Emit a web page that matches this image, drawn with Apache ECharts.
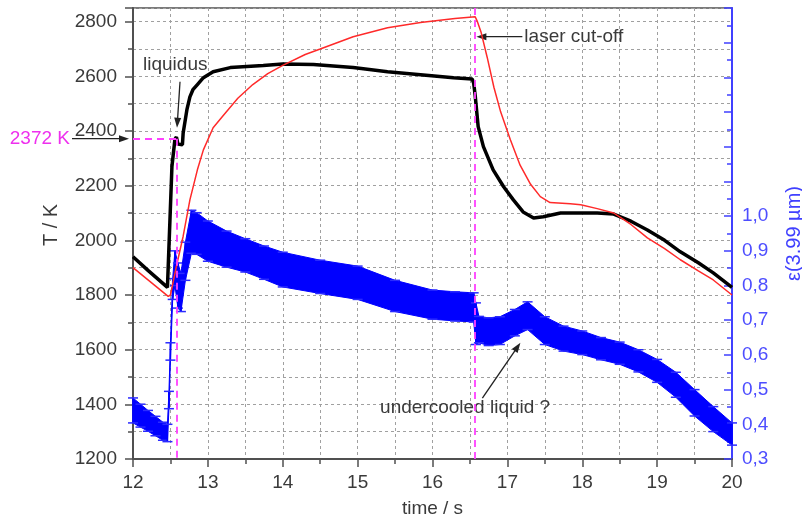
<!DOCTYPE html>
<html>
<head>
<meta charset="utf-8">
<script src="https://cdn.jsdelivr.net/npm/echarts@6/dist/echarts.min.js"></script>
<style>
html,body{margin:0;padding:0;background:#fff;}
#chart{width:802px;height:520px;}
</style>
</head>
<body>
<div id="chart"></div>
<script>
// ---- data ----
const timeBlack = [12.00,12.20,12.46,12.47,12.52,12.56,12.58,12.60,12.66,12.67,12.72,12.76,12.80,12.86,12.94,13.07,13.30,13.74,14.00,14.41,14.94,15.40,15.84,16.28,16.53,16.55,16.57,16.61,16.68,16.81,16.95,17.08,17.21,17.35,17.48,17.71,17.94,18.20,18.42,18.65,18.87,19.10,19.31,19.55,19.75,20.00];
const tempBlack = [1940,1890,1828,1835,2270,2370,2378,2352,2350,2393,2478,2525,2551,2570,2595,2617,2632,2640,2645,2643,2632,2617,2606,2595,2590,2575,2530,2416,2343,2258,2196,2148,2104,2082,2086,2100,2100,2100,2096,2070,2038,2000,1958,1918,1881,1828];

const timeRed = [12.00,12.47,12.50,12.59,12.67,12.76,12.86,12.94,13.07,13.20,13.40,13.60,13.80,14.00,14.30,14.50,14.94,15.40,15.84,16.30,16.57,16.60,16.65,16.73,16.82,16.91,17.04,17.17,17.31,17.44,17.57,17.84,17.98,18.20,18.42,18.65,18.87,19.10,19.31,19.55,19.75,20.00];
const tempRed = [1900,1795,1800,1918,2015,2148,2258,2331,2412,2455,2520,2570,2610,2640,2680,2700,2745,2778,2797,2812,2818,2800,2760,2670,2560,2470,2368,2275,2205,2160,2138,2134,2130,2116,2100,2058,2009,1970,1929,1888,1855,1800];

const timeEps = [12.00,12.10,12.20,12.30,12.40,12.46,12.48,12.50,12.53,12.56,12.60,12.64,12.70,12.78,12.85,13.00,13.25,13.50,13.75,14.00,14.50,15.00,15.50,16.00,16.30,16.55,16.58,16.62,16.75,16.90,17.10,17.27,17.50,17.75,18.00,18.25,18.50,18.75,19.00,19.25,19.50,19.75,20.00];
const epsMid = [0.440,0.425,0.410,0.395,0.380,0.375,0.470,0.610,0.790,0.850,0.800,0.780,0.870,0.955,0.950,0.928,0.905,0.887,0.866,0.846,0.825,0.808,0.770,0.745,0.740,0.737,0.690,0.673,0.667,0.670,0.693,0.713,0.670,0.647,0.635,0.618,0.605,0.583,0.554,0.514,0.462,0.415,0.372];
const epsErr = [0.036,0.033,0.030,0.028,0.026,0.025,0.025,0.025,0.030,0.050,0.065,0.055,0.055,0.062,0.060,0.058,0.052,0.048,0.048,0.050,0.048,0.048,0.045,0.042,0.042,0.042,0.060,0.038,0.040,0.040,0.038,0.040,0.040,0.036,0.034,0.032,0.032,0.032,0.033,0.036,0.038,0.036,0.032];

const liquidusTemp = 2372;   // K
const liquidusTime = 12.58;  // s
const cutoffTime = 16.57;    // s

// annotation anchors (data units)
const noteLiquidusText = [12.134, 2643];
const noteLiquidusArrow = [[12.628, 2580],[12.588, 2412]];
const noteLaserText = [17.227, 2745];
const noteLaserArrow = [[17.20, 2745],[16.586, 2745]];
const noteUnderText = [15.30, 1387];
const noteUnderArrow = [[16.666, 1423],[17.174, 1625]];

const FONT = '"Liberation Sans", Arial, sans-serif';
const txtColor = '#3a3a3a';
const blueAxis = '#4040ff';

const chart = echarts.init(document.getElementById('chart'), null, {renderer:'canvas'});

const black = timeBlack.map((t,i)=>[t,tempBlack[i]]);
const red = timeRed.map((t,i)=>[t,tempRed[i]]);
const eps = timeEps.map((t,i)=>[t,epsMid[i],epsErr[i]]);

const gridDash = {color:'#a0a0a0', width:1, type:[3,3]};

chart.setOption({
  animation:false,
  backgroundColor:'#fff',
  grid:{left:133,right:70,top:8,bottom:61,containLabel:false,outerBoundsMode:'none',show:true,borderColor:'#505050',borderWidth:1.5,backgroundColor:'transparent'},
  xAxis:{
    type:'value',min:12,max:20,interval:1,
    name:'time / s',nameLocation:'middle',nameGap:40,
    nameTextStyle:{color:txtColor,fontSize:19,fontFamily:FONT},
    axisLine:{show:true,lineStyle:{color:'#505050',width:2}},
    axisTick:{show:true,length:8,lineStyle:{color:'#505050',width:1.5}},
    minorTick:{show:true,splitNumber:2,length:5,lineStyle:{color:'#505050',width:1.5}},
    axisLabel:{color:txtColor,fontSize:19,fontFamily:FONT,margin:14},
    splitLine:{show:true,lineStyle:gridDash},
    minorSplitLine:{show:true,lineStyle:gridDash}
  },
  yAxis:[{
    type:'value',min:1200,max:2850,interval:200,position:'left',
    axisLine:{show:true,lineStyle:{color:'#505050',width:2}},
    axisTick:{show:true,length:8,lineStyle:{color:'#505050',width:1.5}},
    minorTick:{show:true,splitNumber:2,length:5,lineStyle:{color:'#505050',width:1.5}},
    axisLabel:{color:txtColor,fontSize:19,fontFamily:FONT,margin:16,
      formatter:v=>(v%200===0 && v<=2800)?String(v):''},
    splitLine:{show:true,lineStyle:gridDash},
    minorSplitLine:{show:true,lineStyle:gridDash}
  },{
    type:'value',min:0.3,max:1.6,interval:0.1,position:'right',
    name:'ε(3.99 µm)',nameLocation:'middle',nameRotate:90,nameGap:52,
    nameTextStyle:{color:blueAxis,fontSize:20,fontFamily:FONT},
    axisLine:{show:true,lineStyle:{color:blueAxis,width:2}},
    axisTick:{show:true,inside:true,length:8,lineStyle:{color:blueAxis,width:1.5}},
    minorTick:{show:true,splitNumber:2,length:5,lineStyle:{color:blueAxis,width:1.5}},
    axisLabel:{color:'#4d4dff',fontSize:19,fontFamily:FONT,margin:10,
      formatter:v=>(v<=1.0001)?v.toFixed(1).replace('.',','):''},
    splitLine:{show:false},
    minorSplitLine:{show:false}
  }],
  series:[{
    type:'custom',name:'emissivity',xAxisIndex:0,yAxisIndex:1,
    data:eps,encode:{x:0,y:1},
    renderItem:function(params,api){
      const i = params.dataIndex;
      const t = api.value(0), c = api.value(1), e = api.value(2);
      const top = api.coord([t,c+e]);
      const bot = api.coord([t,c-e]);
      const children = [];
      if (i < timeEps.length-1){
        const t2 = timeEps[i+1], c2 = epsMid[i+1], e2 = epsErr[i+1];
        const top2 = api.coord([t2,c2+e2]);
        const bot2 = api.coord([t2,c2-e2]);
        children.push({type:'polygon',shape:{points:[top,top2,bot2,bot]},
          style:{fill:'#0000ff',stroke:'#0000ff',lineWidth:1}});
      }
      children.push({type:'line',shape:{x1:top[0],y1:top[1],x2:bot[0],y2:bot[1]},style:{stroke:'#0000ff',lineWidth:1.5}});
      children.push({type:'line',shape:{x1:top[0]-5,y1:top[1],x2:top[0]+5,y2:top[1]},style:{stroke:'#2a2aff',lineWidth:1.5}});
      children.push({type:'line',shape:{x1:bot[0]-5,y1:bot[1],x2:bot[0]+5,y2:bot[1]},style:{stroke:'#2a2aff',lineWidth:1.5}});
      return {type:'group',children};
    },
    z:2
  },{
    type:'line',name:'T',data:black,showSymbol:false,symbol:'none',
    lineStyle:{color:'#000',width:3.5},itemStyle:{color:'#000'},z:3
  },{
    type:'line',name:'T model',data:red,showSymbol:false,symbol:'none',
    lineStyle:{color:'#ff2a2a',width:1.5},itemStyle:{color:'#ff2a2a'},z:4,
    markLine:{
      silent:true,symbol:['none','none'],animation:false,
      label:{show:false},
      lineStyle:{color:'#ff40ff',width:1.8,type:[7,5]},
      data:[
        [{coord:[12,liquidusTemp]},{coord:[liquidusTime,liquidusTemp]}],
        [{coord:[liquidusTime,liquidusTemp]},{coord:[liquidusTime,1200]}],
        [{coord:[cutoffTime,1200]},{coord:[cutoffTime,2850]}]
      ]
    }
  }]
});

// ---- annotations anchored in data space ----
function px(p){ return chart.convertToPixel({xAxisIndex:0,yAxisIndex:0},p); }
function arrow(a,b){
  const dx=b[0]-a[0], dy=b[1]-a[1];
  const L=Math.sqrt(dx*dx+dy*dy), ux=dx/L, uy=dy/L, nx=-uy, ny=ux;
  const hl=10, hw=3.5;
  const base=[b[0]-ux*hl,b[1]-uy*hl];
  return {type:'group',children:[
    {type:'line',shape:{x1:a[0],y1:a[1],x2:base[0]+ux*2,y2:base[1]+uy*2},style:{stroke:'#222',lineWidth:1.3}},
    {type:'polygon',shape:{points:[b,[base[0]+nx*hw,base[1]+ny*hw],[base[0]-nx*hw,base[1]-ny*hw]]},style:{fill:'#222'}}
  ]};
}
function label(p,text,color,align){
  return {type:'text',x:p[0],y:p[1],style:{text:text,fill:color||txtColor,font:'19px '+FONT,align:align||'left',verticalAlign:'middle'}};
}
const axisOrigin = px([12,liquidusTemp]);
const liqY = axisOrigin[1];
const graphics = [
  label([axisOrigin[0]-63,liqY],liquidusTemp+' K','#ee30ee','right'),
  arrow([axisOrigin[0]-61,liqY],[axisOrigin[0]-4,liqY]),
  label(px(noteLiquidusText),'liquidus'),
  arrow(px(noteLiquidusArrow[0]),px(noteLiquidusArrow[1])),
  label(px(noteLaserText),'laser cut-off'),
  arrow(px(noteLaserArrow[0]),px(noteLaserArrow[1])),
  label(px(noteUnderText),'undercooled liquid ?'),
  arrow(px(noteUnderArrow[0]),px(noteUnderArrow[1])),
  {type:'text',x:51,y:225,rotation:Math.PI/2,style:{text:'T / K',fill:txtColor,font:'20px '+FONT,align:'center',verticalAlign:'middle'}}
];
chart.setOption({graphic:graphics});
</script>
</body>
</html>
